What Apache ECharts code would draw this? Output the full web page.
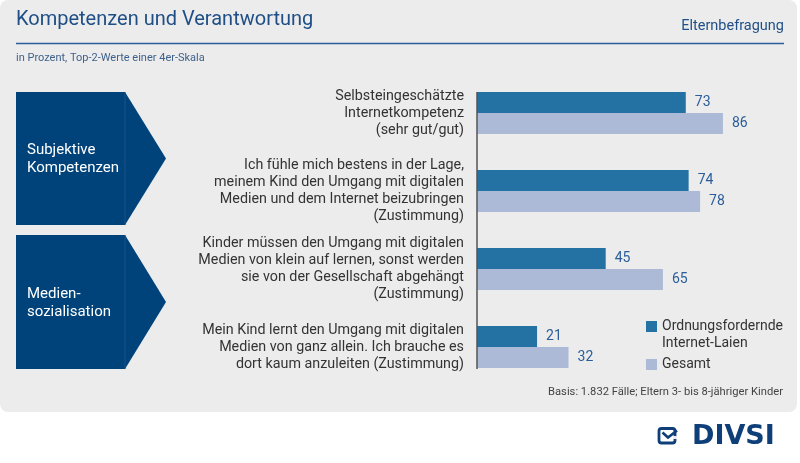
<!DOCTYPE html>
<html>
<head>
<meta charset="utf-8">
<title>Kompetenzen und Verantwortung</title>
<script src="https://cdn.jsdelivr.net/npm/echarts@6/dist/echarts.min.js"></script>
<style>
  html, body { margin: 0; padding: 0; background: #fff; }
  #chart { width: 800px; height: 463px; }
</style>
</head>
<body>
<div id="chart"></div>
<script>
// Daten
var categories = [
  'Selbsteingeschätzte\nInternetkompetenz\n(sehr gut/gut)',
  'Ich fühle mich bestens in der Lage,\nmeinem Kind den Umgang mit digitalen\nMedien und dem Internet beizubringen\n(Zustimmung)',
  'Kinder müssen den Umgang mit digitalen\nMedien von klein auf lernen, sonst werden\nsie von der Gesellschaft abgehängt\n(Zustimmung)',
  'Mein Kind lernt den Umgang mit digitalen\nMedien von ganz allein. Ich brauche es\ndort kaum anzuleiten (Zustimmung)'
];
var seriesNames = ['Ordnungsfordernde Internet-Laien', 'Gesamt'];
var laien = [73, 74, 45, 21];
var gesamt = [86, 78, 65, 32];
var groups = ['Subjektive\nKompetenzen', 'Medien-\nsozialisation'];

var FONT = 'Roboto, "Noto Sans", sans-serif';
var BLUE = '#1f4f86';

var chart = echarts.init(document.getElementById('chart'), null, { renderer: 'canvas' });

function arrowBox (top, bottom, label) {
  var mid = (top + bottom) / 2;
  return [
    {
      type: 'polygon',
      shape: { points: [[16, top], [125, top], [166, mid], [125, bottom], [16, bottom]] },
      style: { fill: '#00437b' },
      z: 1
    },
    {
      type: 'line',
      shape: { x1: 125, y1: top, x2: 125, y2: bottom },
      style: { stroke: '#1a5289', lineWidth: 1 },
      z: 2
    },
    {
      type: 'text',
      left: 27,
      top: mid - 17,
      style: { text: label, fill: '#fff', font: '15px ' + FONT, lineHeight: 18 },
      z: 2
    }
  ];
}

var option = {
  backgroundColor: '#fff',
  animation: false,
  textStyle: { fontFamily: FONT },
  graphic: [
    { type: 'rect', shape: { x: 0, y: 0, width: 797, height: 412, r: 8 }, style: { fill: '#ececec' }, z: -10 },
    { type: 'text', left: 16, top: 10, style: { text: 'Kompetenzen und Verantwortung', fill: BLUE, font: '20px ' + FONT } },
    { type: 'text', right: 16, top: 19, style: { text: 'Elternbefragung', fill: BLUE, font: '14.5px ' + FONT } },
    { type: 'line', shape: { x1: 16, y1: 43.5, x2: 784, y2: 43.5 }, style: { stroke: '#2a5d9a', lineWidth: 1.5 } },
    { type: 'text', left: 16, top: 53, style: { text: 'in Prozent, Top-2-Werte einer 4er-Skala', fill: '#3f628c', font: '11px ' + FONT } },
    { type: 'line', shape: { x1: 477, y1: 92, x2: 477, y2: 369 }, style: { stroke: '#555', lineWidth: 1.5 }, z: 5 },
    { type: 'text', right: 17, top: 387, style: { text: 'Basis: 1.832 Fälle; Eltern 3- bis 8-jähriger Kinder', fill: '#444', font: '11.2px ' + FONT } },
    {
      type: 'rect',
      shape: { x: 659, y: 428.5, width: 16, height: 14.5, r: 2.5 },
      style: { fill: 'none', stroke: '#0f3f78', lineWidth: 2.8 }
    },
    {
      type: 'polyline',
      shape: { points: [[662.5, 432.5], [668, 437.5], [677, 430.5]] },
      style: { fill: 'none', stroke: '#0f3f78', lineWidth: 2.6 }
    },
    { type: 'rect', shape: { x: 673, y: 436, width: 4, height: 3 }, style: { fill: '#ececec' } },
    { type: 'text', left: 692, top: 423, style: { text: 'DIVSI', fill: '#0f3f78', font: 'bold 27px "DejaVu Sans", sans-serif', letterSpacing: 0.5 } }
  ].concat(arrowBox(92, 225, groups[0])).concat(arrowBox(235, 369, groups[1])),
  legend: {
    orient: 'vertical',
    left: 641,
    top: 296,
    itemWidth: 11,
    itemHeight: 11,
    itemGap: 4,
    icon: 'rect',
    data: [
      { name: seriesNames[0] },
      { name: seriesNames[1] }
    ],
    formatter: function (name) {
      // erste Zeile auf Hoehe des Symbols
      return name.indexOf(' ') > 0 ? '\n' + name.replace(' ', '\n') : name;
    },
    textStyle: { fontSize: 14, color: '#333', lineHeight: 17, fontFamily: FONT }
  },
  grid: { left: 477, top: 74, width: 286, height: 312 },
  xAxis: {
    type: 'value',
    min: 0,
    max: 100,
    show: false
  },
  yAxis: {
    type: 'category',
    inverse: true,
    data: categories,
    axisLine: { show: false },
    axisTick: { show: false },
    axisLabel: {
      margin: 13,
      align: 'right',
      fontSize: 14.3,
      lineHeight: 17,
      color: '#333',
      fontFamily: FONT
    }
  },
  series: [
    {
      name: seriesNames[0],
      type: 'bar',
      data: laien,
      barWidth: 21,
      barGap: '0%',
      itemStyle: { color: '#2472a4' },
      label: { show: true, position: 'right', distance: 9, color: '#2a5d9a', fontSize: 14, fontFamily: FONT }
    },
    {
      name: seriesNames[1],
      type: 'bar',
      data: gesamt,
      barWidth: 21,
      itemStyle: { color: '#acbad7' },
      label: { show: true, position: 'right', distance: 9, color: '#2a5d9a', fontSize: 14, fontFamily: FONT }
    }
  ]
};

chart.setOption(option);
</script>
</body>
</html>
